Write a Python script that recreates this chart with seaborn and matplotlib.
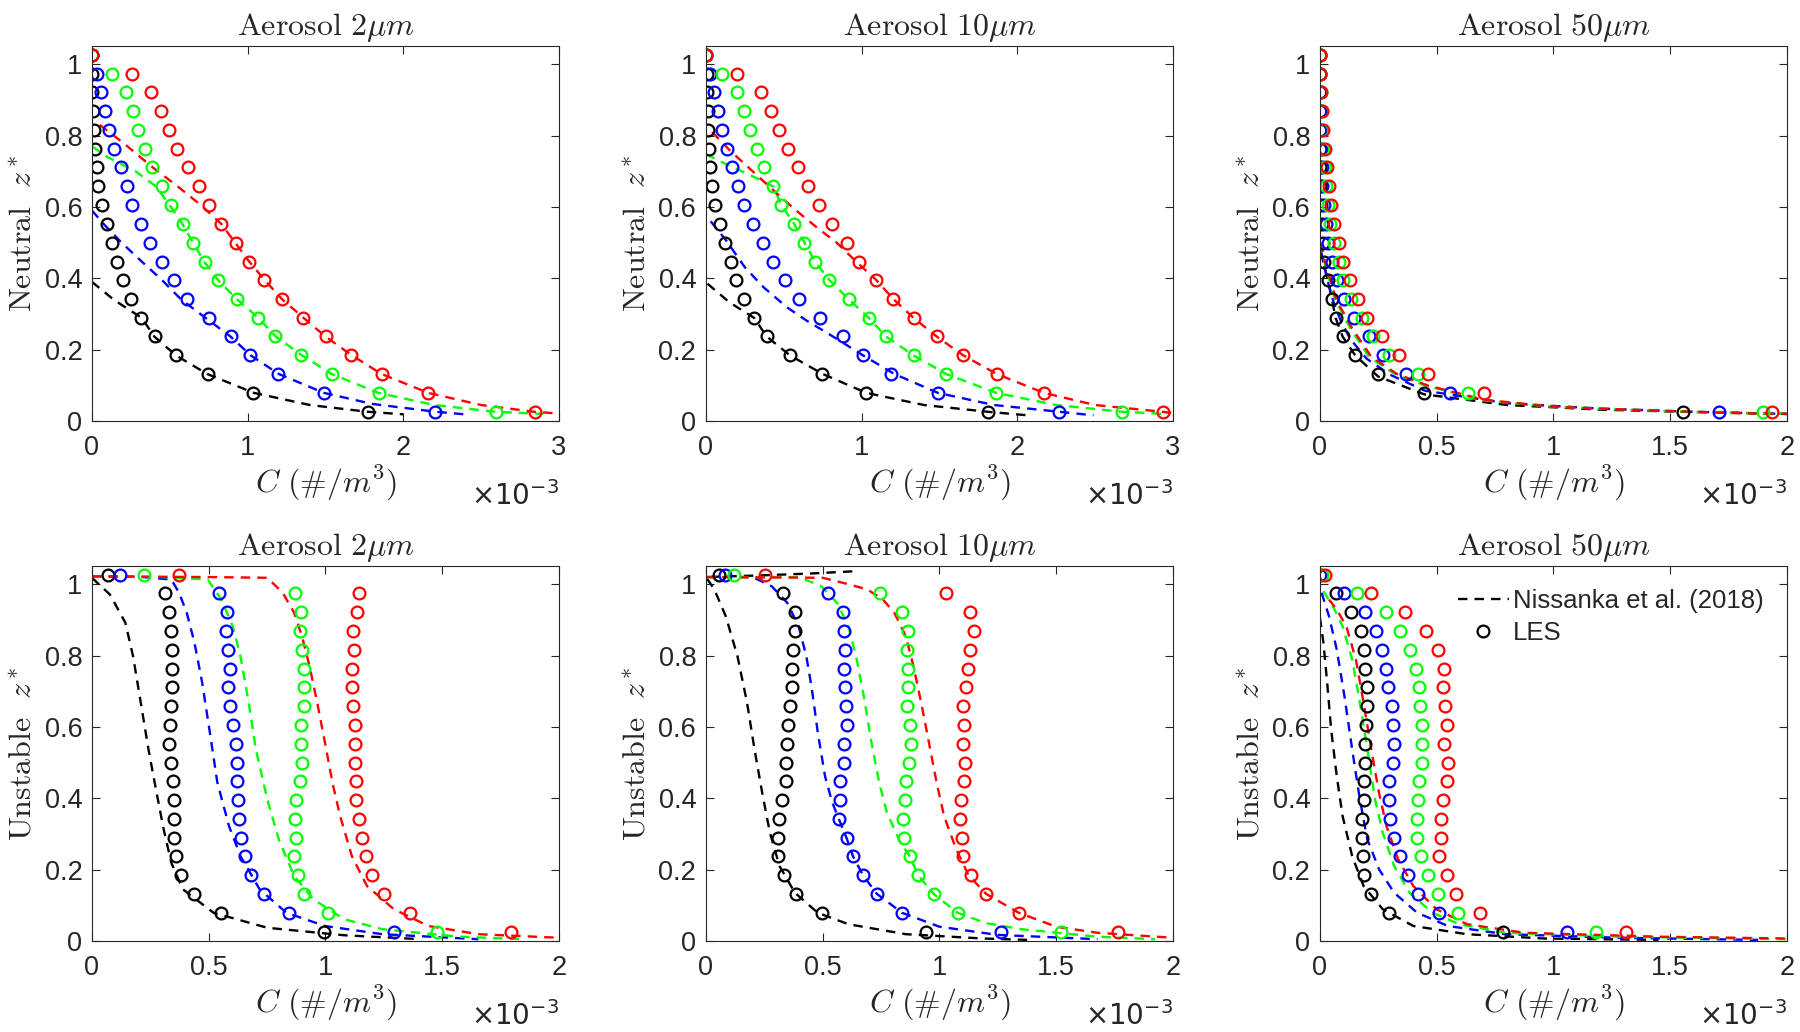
import matplotlib
matplotlib.use("Agg")
import matplotlib.pyplot as plt
from matplotlib.lines import Line2D
import seaborn as sns

# normalised heights of the LES profiles (same 20 levels in every panel), bottom -> top
z_les = [0.026, 0.079, 0.132, 0.184, 0.237, 0.289, 0.342, 0.395, 0.447, 0.500,
         0.553, 0.605, 0.658, 0.711, 0.763, 0.816, 0.868, 0.921, 0.974, 1.026]

# LES concentrations, C in units of 1e-3 #/m^3, one value per z_les level
# --- neutral, 2 um
n2_les_k = [1.772, 1.035, 0.744, 0.542, 0.404, 0.318, 0.251, 0.197, 0.158, 0.128, 0.096, 0.062, 0.039, 0.030, 0.017, 0.012, 0.005, 0.002, 0.002, 0.0]
n2_les_b = [2.206, 1.491, 1.198, 1.016, 0.892, 0.749, 0.609, 0.525, 0.451, 0.375, 0.313, 0.259, 0.222, 0.185, 0.140, 0.108, 0.081, 0.057, 0.030, 0.0]
n2_les_g = [2.593, 1.841, 1.541, 1.346, 1.176, 1.065, 0.929, 0.811, 0.725, 0.648, 0.584, 0.510, 0.449, 0.387, 0.338, 0.293, 0.261, 0.217, 0.126, 0.0]
n2_les_r = [2.844, 2.157, 1.861, 1.666, 1.504, 1.356, 1.220, 1.107, 1.008, 0.924, 0.831, 0.752, 0.685, 0.616, 0.547, 0.498, 0.444, 0.382, 0.256, 0.0]
# --- neutral, 10 um
n10_les_k = [1.814, 1.031, 0.748, 0.541, 0.391, 0.308, 0.246, 0.194, 0.158, 0.121, 0.091, 0.059, 0.039, 0.027, 0.020, 0.015, 0.010, 0.005, 0.005, 0.0]
n10_les_b = [2.269, 1.494, 1.191, 1.009, 0.881, 0.731, 0.601, 0.505, 0.431, 0.367, 0.300, 0.246, 0.207, 0.170, 0.135, 0.103, 0.076, 0.049, 0.025, 0.0]
n10_les_g = [2.675, 1.866, 1.543, 1.334, 1.157, 1.046, 0.916, 0.793, 0.701, 0.633, 0.566, 0.485, 0.431, 0.374, 0.325, 0.281, 0.246, 0.202, 0.103, 0.0]
n10_les_r = [2.934, 2.171, 1.868, 1.654, 1.482, 1.334, 1.204, 1.095, 0.985, 0.903, 0.810, 0.726, 0.657, 0.591, 0.527, 0.468, 0.416, 0.354, 0.202, 0.0]
# --- neutral, 50 um
n50_les_k = [1.554, 0.446, 0.249, 0.151, 0.097, 0.067, 0.051, 0.034, 0.018, 0.011, 0.007, 0.003, 0.0, 0.0, 0.0, 0.0, 0.0, 0.0, 0.0, 0.0]
n50_les_b = [1.708, 0.559, 0.368, 0.272, 0.212, 0.146, 0.102, 0.075, 0.051, 0.036, 0.026, 0.016, 0.010, 0.007, 0.003, 0.002, 0.002, 0.0, 0.0, 0.0]
n50_les_g = [1.898, 0.633, 0.420, 0.297, 0.228, 0.182, 0.135, 0.097, 0.080, 0.059, 0.044, 0.034, 0.026, 0.020, 0.015, 0.010, 0.007, 0.003, 0.0, 0.0]
n50_les_r = [1.938, 0.704, 0.463, 0.340, 0.264, 0.200, 0.164, 0.130, 0.097, 0.080, 0.059, 0.048, 0.039, 0.031, 0.023, 0.015, 0.010, 0.003, 0.0, 0.0]
# --- unstable, 2 um
u2_les_k = [0.994, 0.551, 0.439, 0.383, 0.362, 0.350, 0.350, 0.350, 0.348, 0.337, 0.330, 0.334, 0.340, 0.342, 0.342, 0.342, 0.340, 0.332, 0.312, 0.069]
u2_les_b = [1.293, 0.845, 0.738, 0.680, 0.654, 0.639, 0.629, 0.626, 0.623, 0.620, 0.618, 0.606, 0.593, 0.583, 0.590, 0.583, 0.573, 0.580, 0.546, 0.122]
u2_les_g = [1.477, 1.011, 0.910, 0.882, 0.864, 0.873, 0.871, 0.874, 0.892, 0.899, 0.896, 0.896, 0.910, 0.907, 0.910, 0.899, 0.890, 0.894, 0.871, 0.222]
u2_les_r = [1.795, 1.364, 1.249, 1.198, 1.175, 1.157, 1.145, 1.132, 1.129, 1.126, 1.126, 1.126, 1.119, 1.114, 1.113, 1.121, 1.116, 1.137, 1.142, 0.373]
# --- unstable, 10 um
u10_les_k = [0.942, 0.495, 0.386, 0.335, 0.307, 0.308, 0.313, 0.326, 0.341, 0.341, 0.345, 0.351, 0.361, 0.369, 0.369, 0.372, 0.382, 0.381, 0.331, 0.056]
u10_les_b = [1.262, 0.840, 0.732, 0.673, 0.630, 0.602, 0.569, 0.573, 0.573, 0.592, 0.592, 0.604, 0.599, 0.597, 0.592, 0.597, 0.592, 0.587, 0.522, 0.082]
u10_les_g = [1.521, 1.078, 0.975, 0.909, 0.873, 0.848, 0.843, 0.852, 0.856, 0.868, 0.878, 0.876, 0.861, 0.865, 0.865, 0.860, 0.865, 0.840, 0.747, 0.121]
u10_les_r = [1.764, 1.340, 1.201, 1.135, 1.103, 1.098, 1.089, 1.094, 1.107, 1.111, 1.099, 1.107, 1.103, 1.114, 1.124, 1.132, 1.147, 1.130, 1.029, 0.253]
# --- unstable, 50 um
u50_les_k = [0.783, 0.297, 0.220, 0.190, 0.184, 0.179, 0.179, 0.190, 0.190, 0.192, 0.195, 0.199, 0.203, 0.203, 0.195, 0.187, 0.174, 0.135, 0.069, 0.0]
u50_les_b = [1.057, 0.510, 0.422, 0.379, 0.343, 0.318, 0.302, 0.297, 0.297, 0.315, 0.318, 0.313, 0.310, 0.290, 0.285, 0.266, 0.238, 0.195, 0.102, 0.0]
u50_les_g = [1.183, 0.592, 0.507, 0.461, 0.433, 0.417, 0.417, 0.420, 0.425, 0.436, 0.438, 0.436, 0.430, 0.425, 0.413, 0.384, 0.343, 0.282, 0.159, 0.010]
u50_les_r = [1.311, 0.687, 0.581, 0.543, 0.510, 0.518, 0.518, 0.528, 0.543, 0.548, 0.532, 0.543, 0.535, 0.528, 0.532, 0.504, 0.453, 0.364, 0.220, 0.023]

# Nissanka et al. (2018) model profiles (C, z)
n2_fit_k_c = [0.0, 0.14, 0.32, 0.40, 0.54, 0.74, 1.04, 1.40, 1.77, 2.0]
n2_fit_k_z = [0.39, 0.34, 0.289, 0.237, 0.184, 0.132, 0.079, 0.045, 0.026, 0.019]
n2_fit_b_c = [0.0, 0.08, 0.19, 0.32, 0.45, 0.57, 0.73, 0.89, 1.02, 1.20, 1.49, 1.80, 2.21, 2.42]
n2_fit_b_z = [0.59, 0.55, 0.50, 0.447, 0.395, 0.342, 0.289, 0.237, 0.184, 0.132, 0.079, 0.048, 0.026, 0.018]
n2_fit_g_c = [0.0, 0.10, 0.28, 0.41, 0.50, 0.58, 0.65, 0.72, 0.81, 0.93, 1.07, 1.18, 1.35, 1.54, 1.84, 2.20, 2.59, 2.90]
n2_fit_g_z = [0.77, 0.74, 0.70, 0.658, 0.605, 0.553, 0.50, 0.447, 0.395, 0.342, 0.289, 0.237, 0.184, 0.132, 0.079, 0.045, 0.026, 0.02]
n2_fit_r_c = [0.05, 0.20, 0.39, 0.55, 0.70, 0.83, 0.92, 1.01, 1.11, 1.22, 1.36, 1.50, 1.67, 1.86, 2.16, 2.50, 2.84, 3.0]
n2_fit_r_z = [0.83, 0.78, 0.711, 0.658, 0.605, 0.553, 0.50, 0.447, 0.395, 0.342, 0.289, 0.237, 0.184, 0.132, 0.079, 0.045, 0.026, 0.021]

n10_fit_k_c = [0.01, 0.15, 0.31, 0.39, 0.54, 0.75, 1.03, 1.40, 1.81, 2.07]
n10_fit_k_z = [0.385, 0.333, 0.289, 0.237, 0.184, 0.132, 0.079, 0.045, 0.026, 0.016]
n10_fit_b_c = [0.03, 0.13, 0.25, 0.37, 0.52, 0.645, 0.79, 1.01, 1.21, 1.49, 1.85, 2.27, 2.49]
n10_fit_b_z = [0.56, 0.506, 0.431, 0.375, 0.319, 0.282, 0.244, 0.184, 0.132, 0.079, 0.045, 0.026, 0.016]
n10_fit_g_c = [0.0, 0.12, 0.30, 0.431, 0.485, 0.566, 0.633, 0.701, 0.793, 0.916, 1.046, 1.157, 1.334, 1.543, 1.866, 2.25, 2.675, 2.95]
n10_fit_g_z = [0.748, 0.722, 0.686, 0.658, 0.605, 0.553, 0.50, 0.447, 0.395, 0.342, 0.289, 0.237, 0.184, 0.132, 0.079, 0.045, 0.026, 0.02]
n10_fit_r_c = [0.04, 0.15, 0.30, 0.45, 0.58, 0.72, 0.84, 0.965, 1.095, 1.204, 1.334, 1.482, 1.654, 1.868, 2.171, 2.50, 2.934, 3.0]
n10_fit_r_z = [0.81, 0.76, 0.70, 0.64, 0.59, 0.54, 0.50, 0.447, 0.395, 0.342, 0.289, 0.237, 0.184, 0.132, 0.079, 0.045, 0.026, 0.022]

n50_fit_k_c = [0.005, 0.034, 0.051, 0.067, 0.097, 0.151, 0.249, 0.446, 0.80, 1.20, 1.554, 2.0]
n50_fit_k_z = [0.47, 0.395, 0.342, 0.289, 0.237, 0.184, 0.125, 0.075, 0.045, 0.032, 0.026, 0.02]
n50_fit_b_c = [0.003, 0.03, 0.06, 0.09, 0.13, 0.20, 0.30, 0.45, 0.80, 1.20, 1.60, 2.0]
n50_fit_b_z = [0.48, 0.40, 0.33, 0.28, 0.23, 0.175, 0.13, 0.085, 0.05, 0.035, 0.026, 0.02]
n50_fit_g_c = [0.003, 0.02, 0.065, 0.13, 0.21, 0.32, 0.45, 0.70, 1.0, 1.40, 1.80, 2.0]
n50_fit_g_z = [0.50, 0.445, 0.34, 0.26, 0.18, 0.132, 0.10, 0.058, 0.04, 0.03, 0.022, 0.02]
n50_fit_r_c = [0.003, 0.02, 0.07, 0.138, 0.22, 0.33, 0.46, 0.70, 1.0, 1.40, 1.80, 2.0]
n50_fit_r_z = [0.50, 0.45, 0.34, 0.26, 0.18, 0.132, 0.10, 0.06, 0.04, 0.03, 0.022, 0.02]

u2_fit_k_c = [0.0, 0.077, 0.143, 0.176, 0.209, 0.242, 0.274, 0.307, 0.340, 0.389, 0.521, 0.751, 1.08, 1.408]
u2_fit_k_z = [1.018, 0.971, 0.892, 0.798, 0.668, 0.537, 0.425, 0.313, 0.219, 0.145, 0.079, 0.037, 0.016, 0.005]
u2_fit_b_c = [0.0, 0.20, 0.34, 0.373, 0.406, 0.439, 0.472, 0.505, 0.537, 0.587, 0.636, 0.718, 0.833, 0.998, 1.244, 1.655]
u2_fit_b_z = [1.022, 1.021, 1.013, 0.976, 0.92, 0.836, 0.724, 0.584, 0.444, 0.322, 0.238, 0.145, 0.079, 0.042, 0.019, 0.005]
u2_fit_g_c = [0.0, 0.30, 0.496, 0.554, 0.603, 0.636, 0.669, 0.702, 0.751, 0.80, 0.866, 0.948, 1.08, 1.244, 1.573, 1.852]
u2_fit_g_z = [1.022, 1.02, 1.013, 0.957, 0.882, 0.798, 0.677, 0.537, 0.397, 0.285, 0.182, 0.117, 0.061, 0.033, 0.012, 0.005]
u2_fit_r_c = [0.0, 0.50, 0.751, 0.817, 0.866, 0.899, 0.932, 0.965, 0.998, 1.030, 1.063, 1.113, 1.178, 1.293, 1.441, 1.655, 2.0]
u2_fit_r_z = [1.022, 1.02, 1.018, 0.976, 0.92, 0.855, 0.770, 0.667, 0.556, 0.444, 0.35, 0.238, 0.154, 0.089, 0.042, 0.019, 0.009]

u10_fit_k_c = [0.627, 0.45, 0.25, 0.0, 0.036, 0.085, 0.135, 0.176, 0.208, 0.241, 0.274, 0.315, 0.381, 0.479, 0.61, 0.856, 1.185, 1.38]
u10_fit_k_z = [1.036, 1.03, 1.025, 1.02, 0.985, 0.91, 0.798, 0.668, 0.537, 0.415, 0.303, 0.21, 0.135, 0.079, 0.047, 0.019, 0.007, 0.003]
u10_fit_b_c = [0.0, 0.20, 0.282, 0.348, 0.397, 0.43, 0.454, 0.479, 0.51, 0.54, 0.569, 0.602, 0.63, 0.673, 0.732, 0.84, 1.0, 1.25, 1.677]
u10_fit_b_z = [1.02, 1.02, 0.994, 0.948, 0.882, 0.798, 0.705, 0.584, 0.462, 0.39, 0.342, 0.289, 0.237, 0.184, 0.132, 0.079, 0.04, 0.017, 0.005]
u10_fit_g_c = [0.0, 0.40, 0.495, 0.561, 0.61, 0.643, 0.676, 0.709, 0.742, 0.775, 0.83, 0.873, 0.909, 0.975, 1.078, 1.2, 1.35, 1.677, 1.923]
u10_fit_g_z = [1.02, 1.02, 0.994, 0.948, 0.882, 0.798, 0.686, 0.556, 0.444, 0.36, 0.28, 0.237, 0.184, 0.132, 0.079, 0.05, 0.033, 0.012, 0.005]
u10_fit_r_c = [0.0, 0.50, 0.61, 0.692, 0.758, 0.807, 0.856, 0.889, 0.922, 0.955, 0.988, 1.02, 1.07, 1.125, 1.2, 1.34, 1.5, 1.677, 2.0]
u10_fit_r_z = [1.02, 1.018, 1.0, 0.985, 0.957, 0.92, 0.854, 0.77, 0.668, 0.556, 0.444, 0.35, 0.26, 0.184, 0.132, 0.079, 0.04, 0.023, 0.009]

u50_fit_k_c = [0.0, 0.015, 0.031, 0.048, 0.072, 0.097, 0.138, 0.187, 0.269, 0.40, 0.63, 0.958, 1.45]
u50_fit_k_z = [0.906, 0.836, 0.724, 0.593, 0.462, 0.35, 0.238, 0.154, 0.089, 0.042, 0.019, 0.007, 0.003]
u50_fit_b_c = [0.007, 0.039, 0.072, 0.105, 0.138, 0.171, 0.203, 0.253, 0.318, 0.417, 0.548, 0.794, 1.286, 1.877]
u50_fit_b_z = [0.976, 0.91, 0.817, 0.686, 0.537, 0.397, 0.285, 0.201, 0.135, 0.079, 0.042, 0.019, 0.009, 0.003]
u50_fit_g_c = [0.015, 0.056, 0.097, 0.138, 0.171, 0.203, 0.236, 0.269, 0.318, 0.384, 0.482, 0.597, 0.794, 1.286, 2.0]
u50_fit_g_z = [0.98, 0.938, 0.882, 0.789, 0.668, 0.537, 0.397, 0.303, 0.21, 0.135, 0.079, 0.047, 0.023, 0.012, 0.005]
u50_fit_r_c = [0.039, 0.072, 0.113, 0.154, 0.187, 0.22, 0.253, 0.285, 0.335, 0.40, 0.499, 0.63, 0.876, 1.45, 2.0]
u50_fit_r_z = [0.957, 0.929, 0.882, 0.789, 0.668, 0.537, 0.415, 0.322, 0.229, 0.154, 0.089, 0.047, 0.023, 0.012, 0.007]

colors = ["#000000", "#0000ff", "#00ff00", "#ff0000"]
titles = [r"$\mathrm{Aerosol}\ 2\mu m$", r"$\mathrm{Aerosol}\ 10\mu m$", r"$\mathrm{Aerosol}\ 50\mu m$"]
row_labels = [r"$\mathrm{Neutral}\ \ z^*$", r"$\mathrm{Unstable}\ \ z^*$"]
y_ticks = [0, 0.2, 0.4, 0.6, 0.8, 1]
x_ticks_3 = [0, 1, 2, 3]
x_ticks_2 = [0, 0.5, 1, 1.5, 2]

panels = [
    dict(les=[n2_les_k, n2_les_b, n2_les_g, n2_les_r],
         fit=[(n2_fit_k_c, n2_fit_k_z), (n2_fit_b_c, n2_fit_b_z), (n2_fit_g_c, n2_fit_g_z), (n2_fit_r_c, n2_fit_r_z)],
         xticks=x_ticks_3),
    dict(les=[n10_les_k, n10_les_b, n10_les_g, n10_les_r],
         fit=[(n10_fit_k_c, n10_fit_k_z), (n10_fit_b_c, n10_fit_b_z), (n10_fit_g_c, n10_fit_g_z), (n10_fit_r_c, n10_fit_r_z)],
         xticks=x_ticks_3),
    dict(les=[n50_les_k, n50_les_b, n50_les_g, n50_les_r],
         fit=[(n50_fit_k_c, n50_fit_k_z), (n50_fit_b_c, n50_fit_b_z), (n50_fit_g_c, n50_fit_g_z), (n50_fit_r_c, n50_fit_r_z)],
         xticks=x_ticks_2),
    dict(les=[u2_les_k, u2_les_b, u2_les_g, u2_les_r],
         fit=[(u2_fit_k_c, u2_fit_k_z), (u2_fit_b_c, u2_fit_b_z), (u2_fit_g_c, u2_fit_g_z), (u2_fit_r_c, u2_fit_r_z)],
         xticks=x_ticks_2),
    dict(les=[u10_les_k, u10_les_b, u10_les_g, u10_les_r],
         fit=[(u10_fit_k_c, u10_fit_k_z), (u10_fit_b_c, u10_fit_b_z), (u10_fit_g_c, u10_fit_g_z), (u10_fit_r_c, u10_fit_r_z)],
         xticks=x_ticks_2),
    dict(les=[u50_les_k, u50_les_b, u50_les_g, u50_les_r],
         fit=[(u50_fit_k_c, u50_fit_k_z), (u50_fit_b_c, u50_fit_b_z), (u50_fit_g_c, u50_fit_g_z), (u50_fit_r_c, u50_fit_r_z)],
         xticks=x_ticks_2),
]

sns.set_style("ticks")
plt.rcParams["font.family"] = ["Liberation Sans", "DejaVu Sans"]
plt.rcParams["mathtext.fontset"] = "cm"

DASH = (0, (4, 3))
LW = 1.7
MS = 8.5
MEW = 1.6

fig = plt.figure(figsize=(18, 10.32), dpi=100)

# axes rectangles in figure fraction (left, bottom, width, height)
col_left = [0.0511, 0.3922, 0.7333]
row_bottom = [0.592, 0.0882]
ax_w, ax_h = 0.2594, 0.3630

for i, p in enumerate(panels):
    row, col = divmod(i, 3)
    ax = fig.add_axes([col_left[col], row_bottom[row], ax_w, ax_h])

    for color, (fc, fz) in zip(colors, p["fit"]):
        sns.lineplot(x=fc, y=fz, ax=ax, color=color, linestyle=DASH, linewidth=LW,
                     sort=False, estimator=None)
    for color, c_les in zip(colors, p["les"]):
        sns.lineplot(x=c_les, y=z_les, ax=ax, color=color, linestyle="", marker="o",
                     markersize=MS, markerfacecolor="none", markeredgecolor=color,
                     markeredgewidth=MEW, sort=False, estimator=None)

    ax.set_xlim(0, p["xticks"][-1])
    ax.set_ylim(0, 1.05)
    ax.set_xticks(p["xticks"])
    ax.set_xticklabels([f"{t:g}" for t in p["xticks"]])
    ax.set_yticks(y_ticks)
    ax.set_yticklabels([f"{t:g}" for t in y_ticks])
    ax.tick_params(direction="in", top=True, right=True, length=6, width=0.8,
                   labelsize=19.5, color="#262626")
    ax.tick_params(axis="x", pad=10)
    ax.tick_params(axis="y", pad=7)
    for sp in ax.spines.values():
        sp.set_color("#262626")
        sp.set_linewidth(0.8)

    ax.set_title(titles[col], fontsize=23, pad=8)
    ax.set_xlabel(r"$C\ (\#/m^3)$", fontsize=23, labelpad=2)
    ax.set_ylabel(row_labels[row], fontsize=23, labelpad=4)
    ax.text(1.0, -0.2, r"$\times10^{-3}$", transform=ax.transAxes, ha="right", va="center",
            fontsize=20, math_fontfamily="dejavusans")

    if i == 5:
        handles = [
            Line2D([], [], color="k", linestyle=DASH, linewidth=LW),
            Line2D([], [], color="k", linestyle="", marker="o", markersize=MS,
                   markerfacecolor="none", markeredgewidth=MEW),
        ]
        ax.legend(handles, ["Nissanka et al. (2018)", "LES"], loc="upper right",
                  frameon=False, fontsize=18.5, handlelength=2.0, handletextpad=0.15,
                  labelspacing=0.3, borderaxespad=0.6, borderpad=0.3)

fig.savefig("out.png", dpi=100)
